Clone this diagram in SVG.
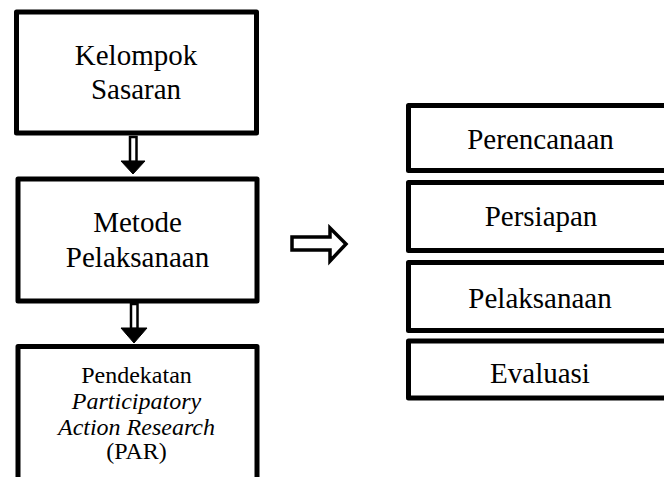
<svg xmlns="http://www.w3.org/2000/svg" width="664" height="477" viewBox="0 0 664 477">
<style>
.box{fill:#fff;stroke:#000;stroke-width:5;stroke-linejoin:round}
.t{font-family:"Liberation Serif","Times New Roman",serif;fill:#000;text-anchor:middle}
.big{font-size:29px}
.sm{font-size:24px}
.it{font-style:italic}
.arr{fill:#fff;stroke:#000;stroke-width:2.5;stroke-linejoin:miter}
.head{fill:#000;stroke:#000;stroke-width:1}
</style>
<rect width="664" height="477" fill="#fff"/>
<g id="connectors">
<rect class="arr" x="130" y="137" width="6.5" height="25"/>
<polygon class="head" points="121,161 145,161 133,174"/>
<rect class="arr" x="131" y="304" width="6.5" height="25"/>
<polygon class="head" points="121,328 147,328 134,343"/>
<polygon class="arr" style="stroke-width:3.5" points="292,237 330,237 330,228 346,244 330,261 330,250 292,250"/>
</g>
<g id="kelompok">
<rect class="box" x="16.5" y="12" width="240" height="121"/>
<text class="t big" x="136" y="65">Kelompok</text>
<text class="t big" x="136" y="99">Sasaran</text>
</g>
<g id="metode">
<rect class="box" x="18" y="179" width="239" height="122"/>
<text class="t big" x="137.5" y="232">Metode</text>
<text class="t big" x="137.5" y="267">Pelaksanaan</text>
</g>
<g id="pendekatan">
<rect class="box" x="18" y="346.5" width="239" height="160"/>
<text class="t sm" x="136.5" y="383">Pendekatan</text>
<text class="t sm it" x="136.5" y="409">Participatory</text>
<text class="t sm it" x="136.5" y="435">Action Research</text>
<text class="t sm" x="136.5" y="459">(PAR)</text>
</g>
<g id="perencanaan">
<rect class="box" x="408.5" y="105.5" width="270" height="65"/>
<text class="t big" x="540.5" y="149">Perencanaan</text>
</g>
<g id="persiapan">
<rect class="box" x="408.5" y="182.5" width="270" height="68"/>
<text class="t big" x="541" y="226">Persiapan</text>
</g>
<g id="pelaksanaan">
<rect class="box" x="408.5" y="262.5" width="270" height="68"/>
<text class="t big" x="540" y="308">Pelaksanaan</text>
</g>
<g id="evaluasi">
<rect class="box" x="408.5" y="341" width="270" height="57"/>
<text class="t big" x="540" y="383">Evaluasi</text>
</g>
</svg>
